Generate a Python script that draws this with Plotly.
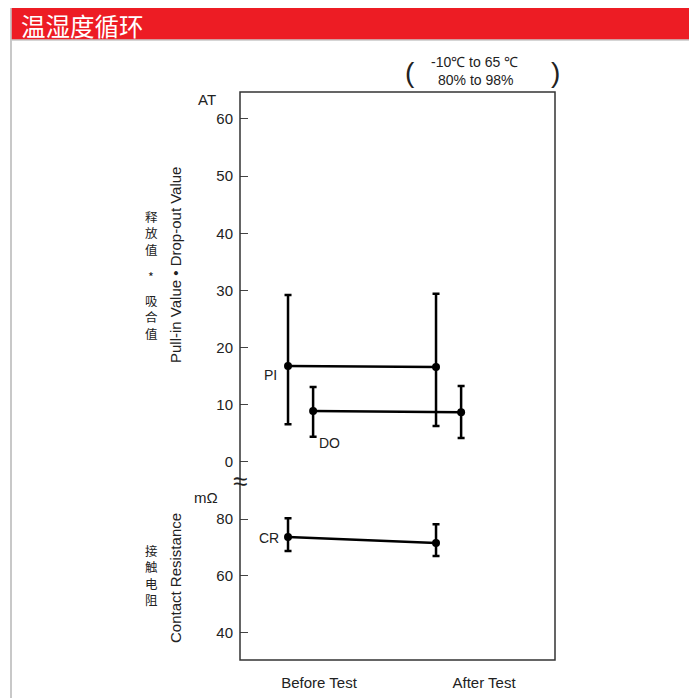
import plotly.graph_objects as go

# ---------------- data ----------------
stages = ["Before Test", "After Test"]
pi_mean = [16.8, 16.6]
pi_max = [29.2, 29.4]
pi_min = [6.6, 6.3]
do_mean = [8.9, 8.7]
do_max = [13.1, 13.3]
do_min = [4.4, 4.2]
cr_mean = [73.7, 71.6]
cr_max = [80.3, 78.2]
cr_min = [68.8, 67.0]
at_ticks = [0, 10, 20, 30, 40, 50, 60]
mohm_ticks = [40, 60, 80]
cn_upper = ["释", "放", "值", "*", "吸", "合", "值"]
cn_lower = ["接", "触", "电", "阻"]

# ---------------- layout constants ----------------
OFF = 8  # page body margin
W, H = 697 - OFF, 698 - OFF
L, R, T, B = 240, 555, 92, 660  # reference pixel coords of plot box
stage_pos = [1, 2]
# horizontal placement of the marker columns (x-axis units)
pi_x = [0.812, 1.709]
do_x = [0.964, 1.861]
cr_x = [0.812, 1.709]
cn_upper_y = [216, 232.5, 249, 276, 300, 316.5, 333]
cn_lower_y = [550, 566.5, 583, 599.5]


def px(x):
    return (x - L) / (R - L)


def py(y):
    return (B - y) / (B - T)


split = py(480)
FONT = "Liberation Sans, Arial, sans-serif"
CJK = "Noto Sans CJK SC, sans-serif"


def err(mean, mx, mn):
    return dict(type="data", symmetric=False,
                array=[a - m for a, m in zip(mx, mean)],
                arrayminus=[m - b for m, b in zip(mean, mn)],
                color="black", thickness=2.5, width=3.5)


fig = go.Figure()
fig.add_trace(go.Scatter(x=pi_x, y=pi_mean, mode="lines+markers",
                         line=dict(color="black", width=2.5), marker=dict(color="black", size=8),
                         error_y=err(pi_mean, pi_max, pi_min), yaxis="y", showlegend=False))
fig.add_trace(go.Scatter(x=do_x, y=do_mean, mode="lines+markers",
                         line=dict(color="black", width=2.5), marker=dict(color="black", size=8),
                         error_y=err(do_mean, do_max, do_min), yaxis="y", showlegend=False))
fig.add_trace(go.Scatter(x=cr_x, y=cr_mean, mode="lines+markers",
                         line=dict(color="black", width=2.5), marker=dict(color="black", size=8),
                         error_y=err(cr_mean, cr_max, cr_min), yaxis="y2", showlegend=False))

shapes = []
# outer gray frame
shapes.append(dict(type="line", xref="paper", yref="paper", x0=px(11), x1=px(11), y0=py(6), y1=py(700),
                   line=dict(color="#c8c8c8", width=2)))
shapes.append(dict(type="line", xref="paper", yref="paper", x0=px(692), x1=px(692), y0=py(6), y1=py(700),
                   line=dict(color="#c8c8c8", width=2)))
# red header
shapes.append(dict(type="rect", xref="paper", yref="paper", x0=px(11), x1=px(692), y0=py(40), y1=py(6),
                   fillcolor="#ED1C24", line=dict(color="#c8c8c8", width=1.5), layer="above"))
# plot box
shapes.append(dict(type="rect", xref="paper", yref="paper", x0=0, x1=1, y0=0, y1=1,
                   line=dict(color="#333333", width=1.5)))

ann = []


def add(text, x, y, size=15, color="#222222", font=FONT, angle=0, xanchor="center", **kw):
    ann.append(dict(text=text, xref="paper", yref="paper", x=px(x), y=py(y), showarrow=False,
                    font=dict(size=size, color=color, family=font), textangle=angle,
                    xanchor=xanchor, yanchor="middle", borderpad=0, **kw))


add("温湿度循环", 20, 25, size=24.5, color="white", font=CJK, xanchor="left")
add("-10℃ to 65 ℃", 474, 62, size=14)
add("80% to 98%", 476, 80, size=14)
add("(", 410, 72, size=28, font=FONT)
add(")", 555, 72, size=28, font=FONT)
add("AT", 207, 100, size=15)
add("mΩ", 206, 497, size=15)
add("Pull-in Value • Drop-out Value", 175, 265, size=15, angle=-90)
add("Contact Resistance", 175, 578, size=15, angle=-90)
for ch, yy in zip(cn_upper, cn_upper_y):
    add(ch, 151, yy, size=12.5, font=CJK)
for ch, yy in zip(cn_lower, cn_lower_y):
    add(ch, 151, yy, size=12.5, font=CJK)
add("PI", 270, 375, size=14)
add("DO", 329, 443, size=14)
add("CR", 269, 538, size=14)
add("≈", 240, 481, size=26)

fig.update_layout(
    template="none",
    width=W, height=H,
    margin=dict(l=L - OFF, r=W - (R - OFF), t=T - OFF, b=H - (B - OFF), pad=0, autoexpand=False),
    paper_bgcolor="white", plot_bgcolor="white",
    shapes=shapes, annotations=ann,
    xaxis=dict(range=[0.521, 2.43], tickvals=stage_pos, ticktext=stages, showgrid=False,
               zeroline=False, showline=False, ticks="", ticklabelstandoff=12, anchor="y2",
               automargin=False,
               tickfont=dict(size=15, color="#222222", family=FONT)),
    yaxis=dict(domain=[split, 1], range=[-3.15, 64.7], tickvals=at_ticks, showgrid=False,
               zeroline=False, showline=False, ticks="inside", ticklen=8, tickwidth=1.2,
               ticklabelstandoff=6, automargin=False,
               tickcolor="#444444", tickfont=dict(size=15, color="#222222", family=FONT)),
    yaxis2=dict(domain=[0, split], range=[30.5, 93.7], tickvals=mohm_ticks, showgrid=False,
                zeroline=False, showline=False, ticks="inside", ticklen=8, tickwidth=1.2,
                ticklabelstandoff=6, automargin=False,
                tickcolor="#444444", tickfont=dict(size=15, color="#222222", family=FONT),
                anchor="x"),
)

fig.write_html("out.html")
